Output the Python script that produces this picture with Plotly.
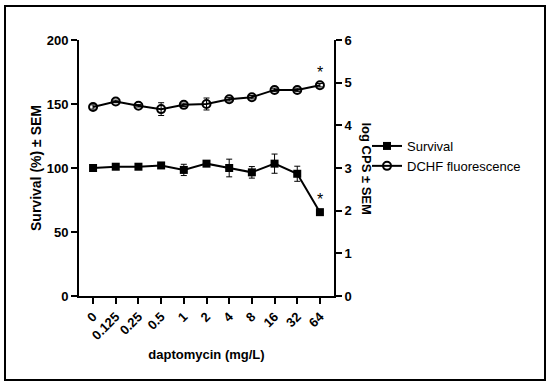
import plotly.graph_objects as go

categories = ["0", "0.125", "0.25", "0.5", "1", "2", "4", "8", "16", "32", "64"]
survival = [100, 101, 101, 102, 98.5, 103.4, 100, 96.6, 103.4, 95.5, 65.5]
survival_sem = [1.0, 1.0, 1.0, 1.0, 4.4, 2.0, 6.9, 4.5, 7.5, 5.9, 0]
dchf = [4.43, 4.56, 4.46, 4.38, 4.48, 4.50, 4.61, 4.66, 4.83, 4.83, 4.94]
dchf_sem = [0.05, 0.03, 0.03, 0.15, 0.04, 0.14, 0.04, 0.04, 0.04, 0.04, 0.04]
left_ticks = [0, 50, 100, 150, 200]
right_ticks = [0, 1, 2, 3, 4, 5, 6]

xs = list(range(len(categories)))
FONT = "Liberation Sans, Arial, sans-serif"

fig = go.Figure()
fig.add_trace(go.Scatter(
    x=xs, y=survival, name="Survival", mode="lines+markers",
    line=dict(color="black", width=2),
    marker=dict(symbol="square", size=8, color="black"),
    error_y=dict(type="data", array=survival_sem, color="black", thickness=1, width=3),
    yaxis="y",
))
fig.add_trace(go.Scatter(
    x=xs, y=dchf, name="DCHF fluorescence", mode="lines+markers",
    line=dict(color="black", width=2),
    marker=dict(symbol="circle-open", size=8, color="black", line=dict(width=2)),
    error_y=dict(type="data", array=dchf_sem, color="black", thickness=1, width=3),
    yaxis="y2",
))

fig.add_annotation(x=xs[-1], y=survival[-1], yref="y", text="*", showarrow=False,
                   yshift=13, font=dict(family=FONT, size=16, color="black"))
fig.add_annotation(x=xs[-1], y=dchf[-1], yref="y2", text="*", showarrow=False,
                   yshift=13, font=dict(family=FONT, size=16, color="black"))

fig.add_annotation(xref="paper", yref="paper", x=(376 - 79) / 255, y=0.5,
                   text="log CPS ± SEM", textangle=90, showarrow=False,
                   font=dict(family=FONT, size=13, color="black", weight="bold"))

fig.add_shape(type="rect", xref="paper", yref="paper",
              x0=(5 - 79) / 255, x1=(545 - 79) / 255,
              y0=(296 - 380) / 256, y1=(296 - 6) / 256,
              line=dict(color="black", width=2))

fig.update_layout(
    width=550, height=386,
    margin=dict(l=79, r=216, t=40, b=90),
    paper_bgcolor="white", plot_bgcolor="white",
    font=dict(family=FONT, color="black"),
    showlegend=True,
    legend=dict(x=(367 - 79) / 255, y=(296 - 131) / 256, xanchor="left", yanchor="top",
                font=dict(family=FONT, size=13, color="black"),
                bgcolor="rgba(0,0,0,0)", tracegroupgap=2, itemwidth=30),
    xaxis=dict(
        range=[-0.62, 10.62], tickmode="array", tickvals=xs, ticktext=categories,
        tickangle=-45, showline=True, linecolor="black", linewidth=2,
        ticks="outside", ticklen=6, tickwidth=2, tickcolor="black",
        showgrid=False, zeroline=False,
        tickfont=dict(family=FONT, size=13, color="black", weight="bold"),
        title=dict(text="daptomycin (mg/L)", standoff=8,
                   font=dict(family=FONT, size=13, color="black", weight="bold")),
    ),
    yaxis=dict(
        range=[0, 200], tickvals=left_ticks, showline=True, linecolor="black", linewidth=2,
        ticks="outside", ticklen=6, tickwidth=2, tickcolor="black",
        showgrid=False, zeroline=False,
        tickfont=dict(family=FONT, size=13, color="black", weight="bold"),
        title=dict(text="Survival (%) ± SEM", standoff=2,
                   font=dict(family=FONT, size=14, color="black", weight="bold")),
    ),
    yaxis2=dict(
        range=[0, 6], tickvals=right_ticks, overlaying="y", side="right",
        showline=True, linecolor="black", linewidth=2,
        ticks="outside", ticklen=6, tickwidth=2, tickcolor="black",
        showgrid=False, zeroline=False,
        tickfont=dict(family=FONT, size=13, color="black", weight="bold"),
    ),
)

fig.write_html("out.html", config={"displayModeBar": False},
               post_script="document.body.style.margin='0';")
